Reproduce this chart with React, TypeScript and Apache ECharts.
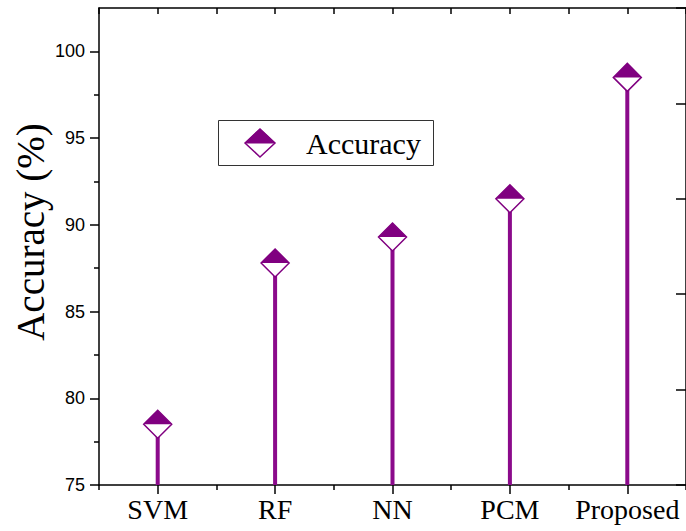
import React, { useEffect, useRef } from "react";
import * as echarts from "echarts";

const categories = ["SVM", "RF", "NN", "PCM", "Proposed"];
const accuracy = [78.5, 87.8, 89.3, 91.5, 98.5];
const majorTicks = [75, 80, 85, 90, 95, 100];
const minorTicks = [77.5, 82.5, 87.5, 92.5, 97.5];
const seriesName = "Accuracy";
const yTitle = "Accuracy (%)";

const STEM = "#8b0a8b";
const MARK = "#800080";
const SERIF = "'Liberation Serif', 'Times New Roman', serif";
const SANS = "'Liberation Sans', Arial, sans-serif";

export default function App() {
  const ref = useRef<HTMLDivElement>(null);
  useEffect(() => {
    const chart = echarts.init(ref.current!, null, { renderer: "svg" });
    const axisLine = { show: true, lineStyle: { color: "#000", width: 1.5 } };
    const tickStyle = { color: "#000", width: 1.5 };
    chart.setOption({
      animation: false,
      backgroundColor: "#fff",
      grid: { left: 99, top: 8, right: -5, bottom: 46, containLabel: false },
      xAxis: [
        {
          type: "category", data: categories, position: "bottom",
          axisLine, axisTick: { show: true, alignWithLabel: true, length: 9, lineStyle: tickStyle },
          axisLabel: { interval: 0, fontFamily: SERIF, fontSize: 28, color: "#000", margin: 10 },
        },
        {
          type: "category", data: categories, position: "bottom",
          axisLine: { show: false }, axisTick: { show: true, length: 5, lineStyle: tickStyle },
          axisLabel: { show: false },
        },
        {
          type: "category", data: categories, position: "top",
          axisLine, axisTick: { show: true, inside: true, alignWithLabel: true, length: 6, lineStyle: tickStyle },
          axisLabel: { show: false },
        },
        {
          type: "category", data: categories, position: "top",
          axisLine: { show: false }, axisTick: { show: true, inside: true, length: 6, lineStyle: tickStyle },
          axisLabel: { show: false },
        },
      ],
      yAxis: [
        {
          type: "value", min: 75, max: 102.5, position: "left",
          axisLine, splitLine: { show: false },
          axisTick: { show: true, length: 9, customValues: majorTicks, lineStyle: tickStyle },
          axisLabel: { customValues: majorTicks, fontFamily: SANS, fontSize: 18, color: "#000", margin: 14 },
        },
        {
          type: "value", min: 75, max: 102.5, position: "left",
          axisLine: { show: false }, splitLine: { show: false },
          axisTick: { show: true, length: 5, customValues: minorTicks, lineStyle: tickStyle },
          axisLabel: { show: false },
        },
        {
          type: "value", min: 0, max: 5, interval: 1, position: "right",
          axisLine, splitLine: { show: false },
          axisTick: { show: true, inside: true, length: 10, lineStyle: tickStyle },
          axisLabel: { show: false },
        },
      ],
      series: [
        {
          type: "bar", name: seriesName, data: accuracy, xAxisIndex: 0, yAxisIndex: 0,
          barWidth: 4, itemStyle: { color: STEM }, z: 2, clip: true,
        },
        {
          type: "scatter", data: accuracy, xAxisIndex: 0, yAxisIndex: 0,
          symbol: "diamond", symbolSize: [28, 28],
          itemStyle: { color: "#fff", borderColor: MARK, borderWidth: 1.5, opacity: 1 }, z: 3,
        },
        {
          type: "scatter", data: accuracy, xAxisIndex: 0, yAxisIndex: 0,
          symbol: "path://M0,10 L10,0 L20,10 Z", symbolSize: [28, 14], symbolOffset: [0, -7],
          itemStyle: { color: MARK, opacity: 1 }, z: 4,
        },
      ],
      graphic: [
        {
          type: "text", x: 30, y: 232, rotation: Math.PI / 2,
          style: { text: yTitle, font: `39px ${SERIF}`, fill: "#000", align: "center", verticalAlign: "middle" },
        },
        {
          type: "group", children: [
            { type: "rect", shape: { x: 218.5, y: 120.5, width: 215, height: 45 }, style: { fill: "#fff", stroke: "#333", lineWidth: 1 } },
            { type: "polygon", shape: { points: [[245, 143], [260, 129], [275, 143], [260, 157]] }, style: { fill: "#fff", stroke: MARK, lineWidth: 1.5 } },
            { type: "polygon", shape: { points: [[245, 143], [260, 129], [275, 143]] }, style: { fill: MARK, stroke: MARK, lineWidth: 1 } },
            { type: "text", x: 306, y: 143, style: { text: seriesName, font: `30px ${SERIF}`, fill: "#000", align: "left", verticalAlign: "middle" } },
          ],
        },
      ],
    });
    return () => chart.dispose();
  }, []);
  return <div ref={ref} style={{ position: "fixed", left: 0, top: 0, width: 686, height: 531 }} />;
}
